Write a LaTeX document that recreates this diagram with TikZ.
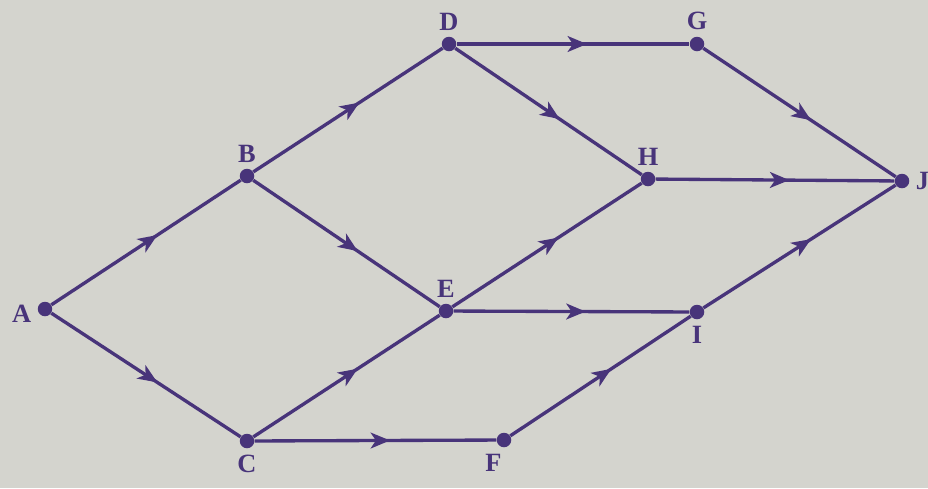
\documentclass[tikz,border=0pt]{standalone}
\usepackage{fontspec}
\setmainfont{Liberation Serif}
\usetikzlibrary{arrows.meta,decorations.markings}
\definecolor{ink}{RGB}{72,52,122}
\definecolor{paper}{RGB}{212,212,206}

\begin{document}
\begin{tikzpicture}[
  x=0.02cm, y=-0.02cm,
  font=\fontsize{15}{17}\selectfont\bfseries,
  vertex/.style = {
    circle, fill=ink, inner sep=0pt, minimum size=0.29cm,
    label distance=4pt,
  },
  flow/.style = {
    draw=ink, line width=1.9pt,
    postaction={decorate},
    decoration={markings, mark=at position 0.56 with
      {\arrow{Stealth[length=11pt,width=9pt,inset=3pt]}}},
  },
]
  \fill[paper] (0,0) rectangle (928,488);
  \useasboundingbox (0,0) rectangle (928,488);

  \node[vertex, label={[text=ink, yshift=-3pt]left:A}]   (A) at (45,309) {};
  \node[vertex, label={[text=ink]above:B}]  (B) at (247,176) {};
  \node[vertex, label={[text=ink]below:C}]  (C) at (247,441) {};
  \node[vertex, label={[text=ink]above:D}]  (D) at (449,44) {};
  \node[vertex, label={[text=ink]above:E}]  (E) at (446,311) {};
  \node[vertex, label={[text=ink, xshift=-6pt]below:F}]  (F) at (504,440) {};
  \node[vertex, label={[text=ink]above:G}]  (G) at (697,44) {};
  \node[vertex, label={[text=ink]above:H}]  (H) at (648,179) {};
  \node[vertex, label={[text=ink]below:I}]  (I) at (697,312) {};
  \node[vertex, label={[text=ink]right:J}]  (J) at (902,181) {};

  \draw[flow] (A) -- (B);
  \draw[flow] (A) -- (C);
  \draw[flow] (B) -- (D);
  \draw[flow] (B) -- (E);
  \draw[flow] (C) -- (E);
  \draw[flow] (C) -- (F);
  \draw[flow] (D) -- (G);
  \draw[flow] (D) -- (H);
  \draw[flow] (E) -- (H);
  \draw[flow] (E) -- (I);
  \draw[flow] (F) -- (I);
  \draw[flow] (G) -- (J);
  \draw[flow] (H) -- (J);
  \draw[flow] (I) -- (J);
\end{tikzpicture}
\end{document}
